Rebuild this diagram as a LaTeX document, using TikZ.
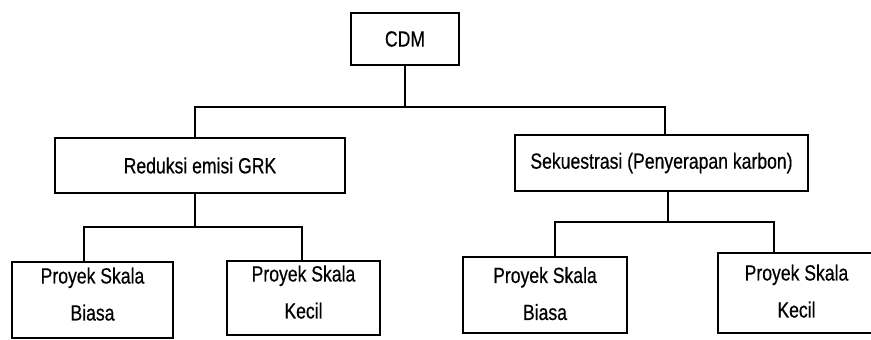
\documentclass[tikz,border=0pt]{standalone}
\usepackage{fontspec}
\setmainfont{Liberation Sans}[FakeStretch=0.8, FakeBold=0.5]

\begin{document}
\begin{tikzpicture}[x=1pt, y=-1pt,
    kotak/.style={draw, line width=1.6pt, inner sep=0pt, align=center,
        font=\fontsize{22}{37}\selectfont},
    garis/.style={line width=1.6pt}]
            \useasboundingbox (0,0) rectangle (871,340);

            \node[kotak, minimum width=108pt, minimum height=52pt] (cdm) at (405,39) {CDM};
            \node[kotak, minimum width=290pt, minimum height=55pt] (reduksi) at (200,165.5) {Reduksi emisi GRK};
            \node[kotak, minimum width=293pt, minimum height=56pt] (sekuestrasi) at (661.5,163) {Sekuestrasi (Penyerapan karbon)};

            \node[kotak, minimum width=161pt, minimum height=76pt] (rbiasa) at (92.5,300) {Proyek Skala\\Biasa\rule[-12pt]{0pt}{0pt}};
            \node[kotak, minimum width=153pt, minimum height=74pt] (rkecil) at (303.5,298) {Proyek Skala\\Kecil\rule[-12pt]{0pt}{0pt}};
            \node[kotak, minimum width=164pt, minimum height=76pt] (sbiasa) at (545,295) {Proyek Skala\\Biasa\rule[-3pt]{0pt}{0pt}};
            \node[kotak, minimum width=157pt, minimum height=80pt] (skecil) at (796.5,293) {Proyek Skala\\Kecil\rule[-4pt]{0pt}{0pt}};

            \coordinate (pusat) at (405,107);
            \coordinate (kiri) at (195,227);
            \coordinate (kanan) at (668,222);

            \draw[garis] (cdm.south) -- (pusat);
            \draw[garis] ([xshift=-5pt]reduksi.north) |- (pusat) -| ([xshift=3.5pt]sekuestrasi.north);

            \draw[garis] ([xshift=-5pt]reduksi.south) -- (kiri);
            \draw[garis] ([xshift=-8.5pt]rbiasa.north) |- (kiri) -| ([xshift=-1.5pt]rkecil.north);

            \draw[garis] ([xshift=6.5pt]sekuestrasi.south) -- (kanan);
            \draw[garis] ([xshift=10pt]sbiasa.north) |- (kanan) -| ([xshift=-22.5pt]skecil.north);
        \end{tikzpicture}
\end{document}
